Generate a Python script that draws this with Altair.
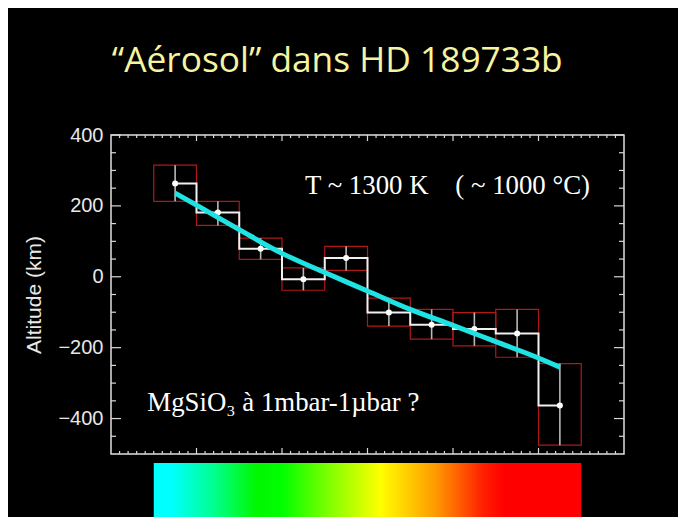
import altair as alt
import pandas as pd

# ---- data ----
bin_lo = [0.5, 1.0, 1.5, 2.0, 2.5, 3.0, 3.5, 4.0, 4.5, 5.0]
bin_hi = [1.0, 1.5, 2.0, 2.5, 3.0, 3.5, 4.0, 4.5, 5.0, 5.5]
bin_mid = [0.75, 1.25, 1.75, 2.25, 2.75, 3.25, 3.75, 4.25, 4.75, 5.25]
altitude = [263, 181, 79, -7, 53, -101, -135, -147, -160, -363]
alt_hi = [315, 213, 109, 25, 86, -60, -92, -101, -92, -245]
alt_lo = [213, 145, 49, -38, 18, -139, -176, -195, -227, -475]

fit_x = [0.75, 1.0, 1.5, 2.0, 2.5, 3.0, 3.5, 4.0, 4.5, 5.0, 5.25]
fit_y = [236, 202, 133, 66, 12, -40, -92, -137, -183, -229, -255]

y_labels = [-400, -200, 0, 200, 400]
y_minor = [-450, -350, -300, -250, -150, -100, -50, 50, 100, 150, 250, 300, 350]
x_major = [1, 2, 3, 4, 5]
x_minor = [round(v / 10, 1) for v in range(1, 60) if v % 10 != 0]

notes_x = [2.27, 0.425]
notes_y = [234, -379]
notes_text = ["T ~ 1300 K\u00a0\u00a0\u00a0\u00a0( ~ 1000 °C)", "MgSiO\u2083 à 1mbar-1µbar ?"]

title_text = "“Aérosol” dans HD 189733b"

# ---- geometry ----
X_DOM = [0, 6]
Y_DOM = [-500, 400]
W, H = 513, 319
ux = (X_DOM[1] - X_DOM[0]) / W
uy = (Y_DOM[1] - Y_DOM[0]) / H

bins = pd.DataFrame(dict(lo=bin_lo, hi=bin_hi, mid=bin_mid, val=altitude,
                         ehi=alt_hi, elo=alt_lo))
fit = pd.DataFrame(dict(x=fit_x, y=fit_y))
notes = pd.DataFrame(dict(x=notes_x, y=notes_y, t=notes_text))

rows = []
for v in y_labels:
    rows.append(dict(x=X_DOM[0], x2=X_DOM[0] + 10 * ux, y=v, y2=v))
    rows.append(dict(x=X_DOM[1], x2=X_DOM[1] - 10 * ux, y=v, y2=v))
for v in y_minor:
    rows.append(dict(x=X_DOM[0], x2=X_DOM[0] + 5 * ux, y=v, y2=v))
    rows.append(dict(x=X_DOM[1], x2=X_DOM[1] - 5 * ux, y=v, y2=v))
for v in x_major:
    rows.append(dict(x=v, x2=v, y=Y_DOM[0], y2=Y_DOM[0] + 6 * uy))
    rows.append(dict(x=v, x2=v, y=Y_DOM[1], y2=Y_DOM[1] - 6 * uy))
for v in x_minor:
    rows.append(dict(x=v, x2=v, y=Y_DOM[0], y2=Y_DOM[0] + 3 * uy))
    rows.append(dict(x=v, x2=v, y=Y_DOM[1], y2=Y_DOM[1] - 3 * uy))
ticks = pd.DataFrame(rows)

xs = alt.Scale(domain=X_DOM, nice=False, zero=False)
ys = alt.Scale(domain=Y_DOM, nice=False, zero=False)
yaxis = alt.Axis(values=y_labels, ticks=False, domain=False, grid=False,
                 title="Altitude  (km)")

def Y(field):
    return alt.Y(field, scale=ys, axis=yaxis)

tick_layer = alt.Chart(ticks).mark_rule(color="#d8d8d8", strokeWidth=1.2).encode(
    x=alt.X("x:Q", scale=xs, axis=None), x2="x2", y=Y("y:Q"), y2="y2")

boxes = alt.Chart(bins).mark_rect(fillOpacity=0, stroke="#b01818", strokeWidth=1.2).encode(
    x=alt.X("lo:Q", scale=xs, axis=None), x2="hi", y=Y("elo:Q"), y2="ehi")

ebars = alt.Chart(bins).mark_rule(color="#b8b8b8", strokeWidth=1.6).encode(
    x=alt.X("mid:Q", scale=xs, axis=None), y=Y("elo:Q"), y2="ehi")

step = alt.Chart(bins).mark_line(color="#f0f0f0", strokeWidth=2, interpolate="step").encode(
    x=alt.X("mid:Q", scale=xs, axis=None), y=Y("val:Q"))

dots = alt.Chart(bins).mark_circle(color="white", size=36, opacity=1).encode(
    x=alt.X("mid:Q", scale=xs, axis=None), y=Y("val:Q"))

curve = alt.Chart(fit).mark_line(color="#1fe3e3", strokeWidth=5, interpolate="monotone").encode(
    x=alt.X("x:Q", scale=xs, axis=None), y=Y("y:Q"))

texts = alt.Chart(notes).mark_text(align="left", baseline="alphabetic", font="Liberation Serif",
                                   fontSize=26.8, color="white").encode(
    x=alt.X("x:Q", scale=xs, axis=None), y=Y("y:Q"), text="t:N")

top = alt.layer(tick_layer, boxes, ebars, step, dots, curve, texts).properties(
    width=W, height=H, view=alt.ViewBackground(stroke="#e0e0e0", strokeWidth=1.5))

cbar_df = pd.DataFrame(dict(lo=[bin_lo[0]], hi=[bin_hi[-1]]))
grad = alt.Gradient(gradient="linear", x1=0, x2=1, y1=0, y2=0, stops=[
    alt.GradientStop(color="#00ffff", offset=0),
    alt.GradientStop(color="#00ffff", offset=0.04),
    alt.GradientStop(color="#00ff90", offset=0.14),
    alt.GradientStop(color="#00f800", offset=0.24),
    alt.GradientStop(color="#00ff00", offset=0.30),
    alt.GradientStop(color="#80ff00", offset=0.41),
    alt.GradientStop(color="#ffff00", offset=0.53),
    alt.GradientStop(color="#ff9900", offset=0.66),
    alt.GradientStop(color="#ff2000", offset=0.77),
    alt.GradientStop(color="#ff0000", offset=0.82),
    alt.GradientStop(color="#ff0000", offset=1.0),
])
cbar = alt.Chart(cbar_df).mark_rect(fill=grad).encode(
    x=alt.X("lo:Q", scale=xs, axis=None), x2="hi").properties(
    width=W, height=60, view=alt.ViewBackground(strokeWidth=0))

chart = alt.vconcat(top, cbar, spacing=7).properties(
    title=alt.TitleParams(title_text, font="Open Sans", fontSize=35.3, color="#f7f49f",
                          fontWeight="normal", anchor="middle", offset=45, dx=13),
    padding={"left": 15, "top": 35, "right": 52, "bottom": 0},
).configure(background="black").configure_axisY(
    labelFont="Liberation Sans", labelFontSize=20, labelColor="#e8e8e8", labelPadding=8,
    titleFont="Liberation Sans", titleFontSize=21, titleFontWeight="normal",
    titleColor="#e8e8e8", titlePadding=13)

chart.save("out.html", embed_options={"renderer": "svg", "actions": False})
